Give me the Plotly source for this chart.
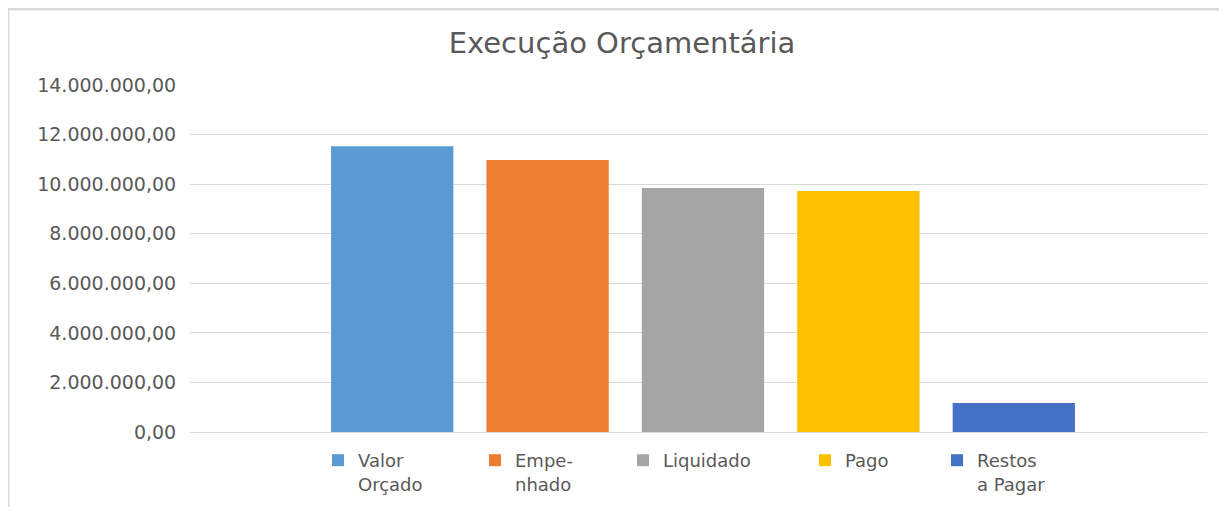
import plotly.graph_objects as go

series_names = ["Valor<br>Orçado", "Empe-<br>nhado", "Liquidado", "Pago", "Restos<br>a Pagar"]
series_values = [11530000, 10970000, 9840000, 9720000, 1170000]
series_colors = ["#5B9BD5", "#ED7D31", "#A5A5A5", "#FFC000", "#4472C4"]
category = ["Execução Orçamentária"]
y_ticks = [0, 2000000, 4000000, 6000000, 8000000, 10000000, 12000000, 14000000]
legend_px = [333, 490, 638, 820, 952]   # page x of each legend swatch (layout)

OFF = 8                      # default body margin of the html page
W, H = 1227 - 2 * OFF, 515 - 2 * OFF
L, R, T, B = 190 - OFF, W - (1207 - OFF), 85 - OFF, H - (432 - OFF)
pw, ph = W - L - R, H - T - B

font_family = "DejaVu Sans"
text_color = "#595959"


def px_x(page_px):
    return (page_px - OFF - L) / pw


def px_y(page_px):
    return (H - B - (page_px - OFF)) / ph


fig = go.Figure()
legend_layout = {}
for i, (name, val, col) in enumerate(zip(series_names, series_values, series_colors)):
    lg = "legend" if i == 0 else f"legend{i + 1}"
    fig.add_trace(go.Bar(x=category, y=[val], name=name, marker_color=col,
                         marker_line_width=0, legend=lg))
    legend_layout[lg] = dict(orientation="h", x=px_x(legend_px[i] - 15), xanchor="left",
                             y=px_y(442), yanchor="top", valign="top",
                             font=dict(size=18, color=text_color, family=font_family),
                             bgcolor="rgba(0,0,0,0)")

shift = 4.5 / pw
fig.update_layout(
    width=W, height=H,
    margin=dict(l=L, r=R, t=T, b=B, autoexpand=False),
    paper_bgcolor="white", plot_bgcolor="white",
    separators=",.",
    barmode="group", bargap=0.236, bargroupgap=0.213,
    showlegend=True,
    font=dict(family=font_family, color=text_color, size=17),
    title=dict(text="Execução Orçamentária", x=(622 - OFF) / W, xanchor="center",
               y=1 - (43 - OFF) / H, yanchor="middle", xref="container", yref="container",
               font=dict(size=29, color=text_color, family=font_family)),
    xaxis=dict(showticklabels=False, showgrid=False, zeroline=False, showline=False,
               ticks="", range=[-0.5 - shift, 0.5 - shift]),
    yaxis=dict(range=[0, 14000000], tickvals=y_ticks, tickformat=",.2f",
               showgrid=True, gridcolor="#D9D9D9", gridwidth=1,
               zeroline=True, zerolinecolor="#D9D9D9", zerolinewidth=1,
               showline=False, ticks="outside", ticklen=0, ticklabelstandoff=9,
               tickfont=dict(size=19, color=text_color, family=font_family)),
    **legend_layout,
)

# chart-area border (top and left edges visible in the reference crop)
bx0, by0 = px_x(OFF), px_y(OFF + 1)
fig.add_shape(type="path", xref="paper", yref="paper",
              path=f"M {bx0},{px_y(540)} L {bx0},{by0} L {px_x(1250)},{by0}",
              line=dict(color="#D9D9D9", width=3))

fig.write_html("out.html")
